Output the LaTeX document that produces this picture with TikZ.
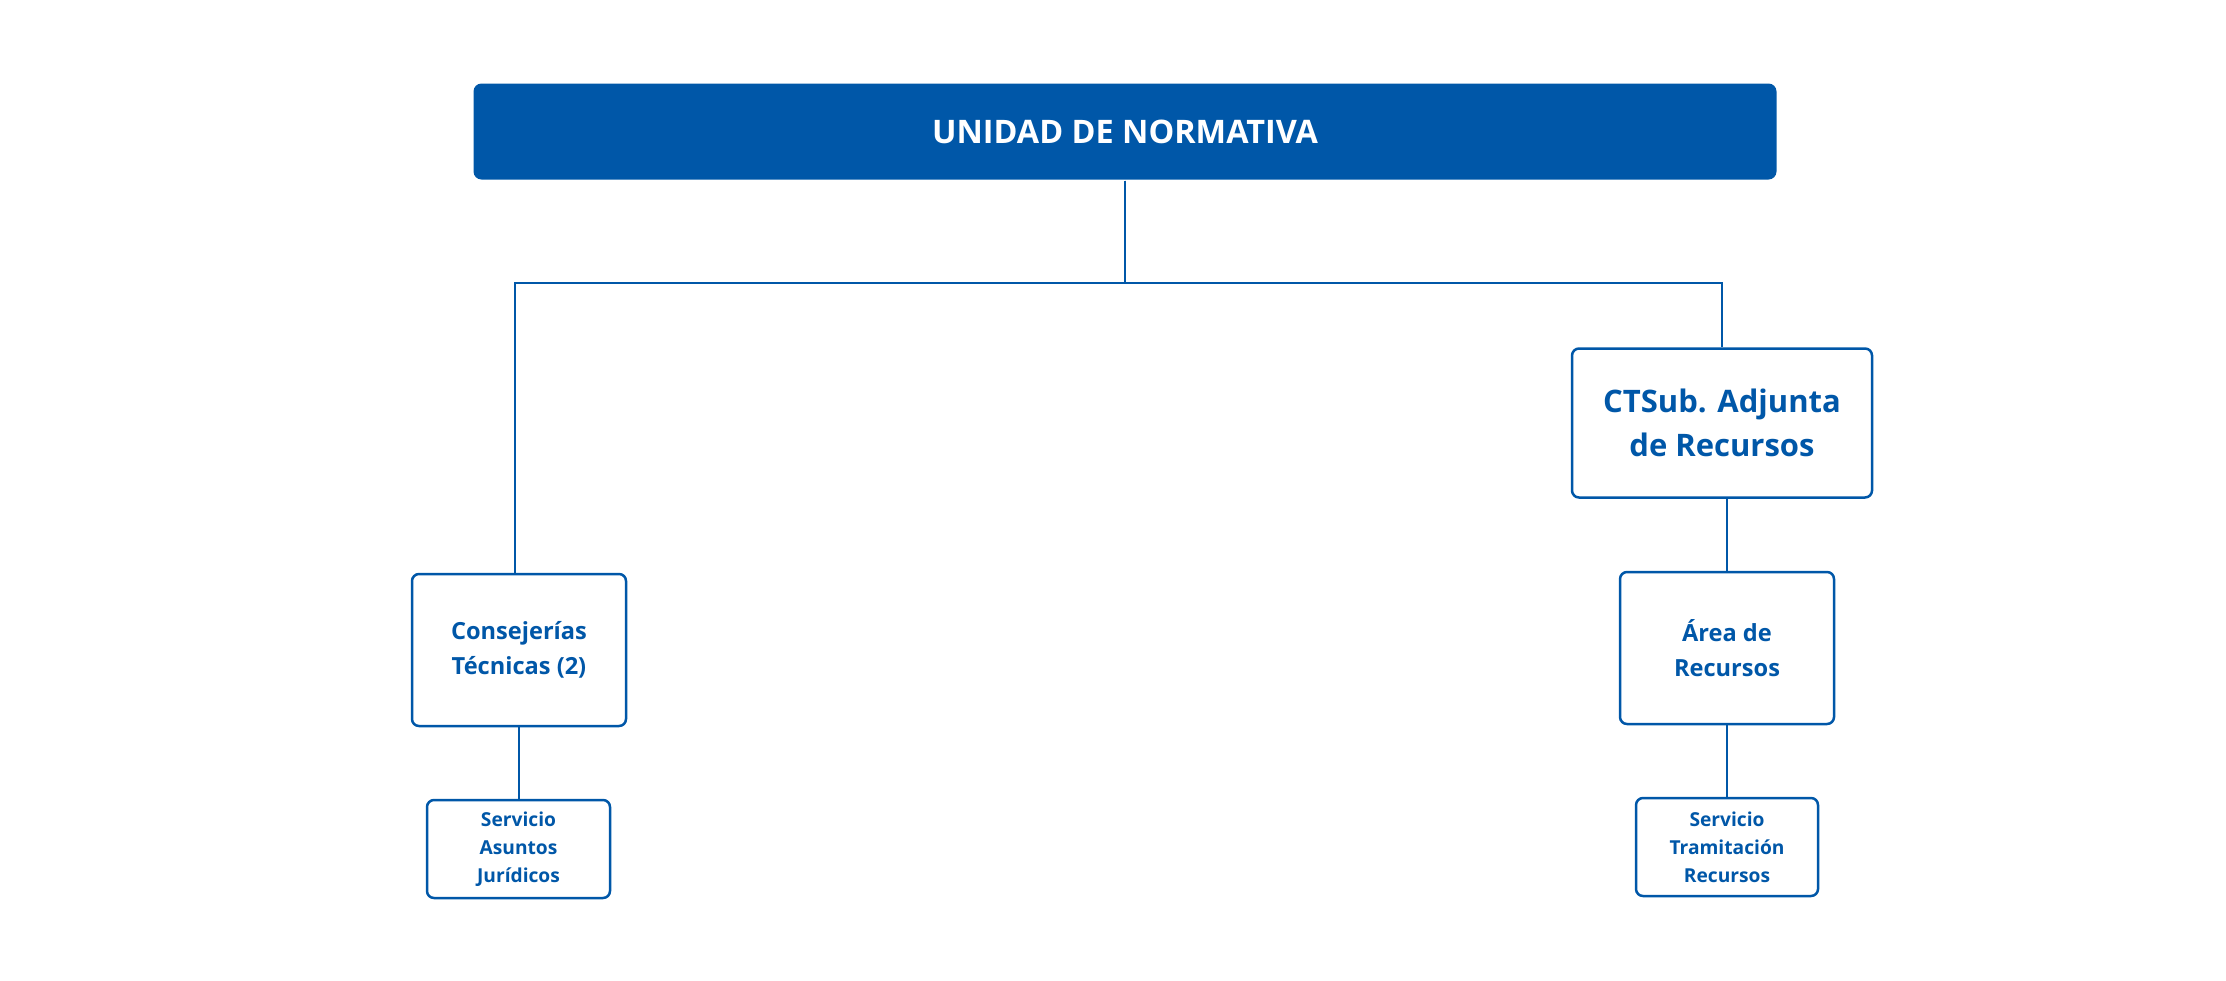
\documentclass[tikz,border=0pt]{standalone}
\usepackage{fontspec}
\setmainfont{Open Sans}
\definecolor{unblue}{RGB}{0,87,168}

\begin{document}
\begin{tikzpicture}[x=0.5pt,y=-0.5pt,line width=1pt,color=unblue,
  box/.style={draw=unblue,line width=1.25pt,rounded corners=3.5pt,fill=white,align=center,text=unblue,inner sep=0pt}]
\useasboundingbox (0,0) rectangle (2226,980);
% cabecera
\node[fill=unblue,rounded corners=4pt,minimum width=651.5pt,minimum height=48pt,text=white,
  font=\fontsize{16.2}{19}\selectfont\bfseries] (un) at (1125,131.5) {UNIDAD DE NORMATIVA};
% cajas
\node[box,minimum width=150pt,minimum height=74.5pt,font=\fontsize{15.5}{22}\selectfont\bfseries] (ctsub) at (1722,423) {CTSub. Adjunta\\de Recursos};
\node[box,minimum width=107pt,minimum height=76pt,font=\fontsize{11.8}{17.5}\selectfont\bfseries] (cons) at (519,650) {Consejerías\\Técnicas (2)};
\node[box,minimum width=107pt,minimum height=76pt,font=\fontsize{11.8}{17.5}\selectfont\bfseries] (area) at (1727,648) {Área de\\Recursos};
\node[box,minimum width=91.5pt,minimum height=49pt,font=\fontsize{9.6}{14}\selectfont\bfseries] (serva) at (518.5,849) {Servicio\\Asuntos\\Jurídicos};
\node[box,minimum width=91pt,minimum height=49pt,font=\fontsize{9.6}{14}\selectfont\bfseries] (servt) at (1727,847) {Servicio\\Tramitación\\Recursos};
% lineas
\coordinate (jl) at (515,282.5);
\coordinate (jr) at (1722,282.5);
\draw (un.south) |- (jl) -- (jl |- cons.north);
\draw (un.south) |- (jr) -- (jr |- ctsub.north);
\draw (ctsub.south -| area.north) -- (area.north);
\draw (cons.south -| serva.north) -- (serva.north);
\draw (area.south) -- (servt.north);
\end{tikzpicture}
\end{document}
